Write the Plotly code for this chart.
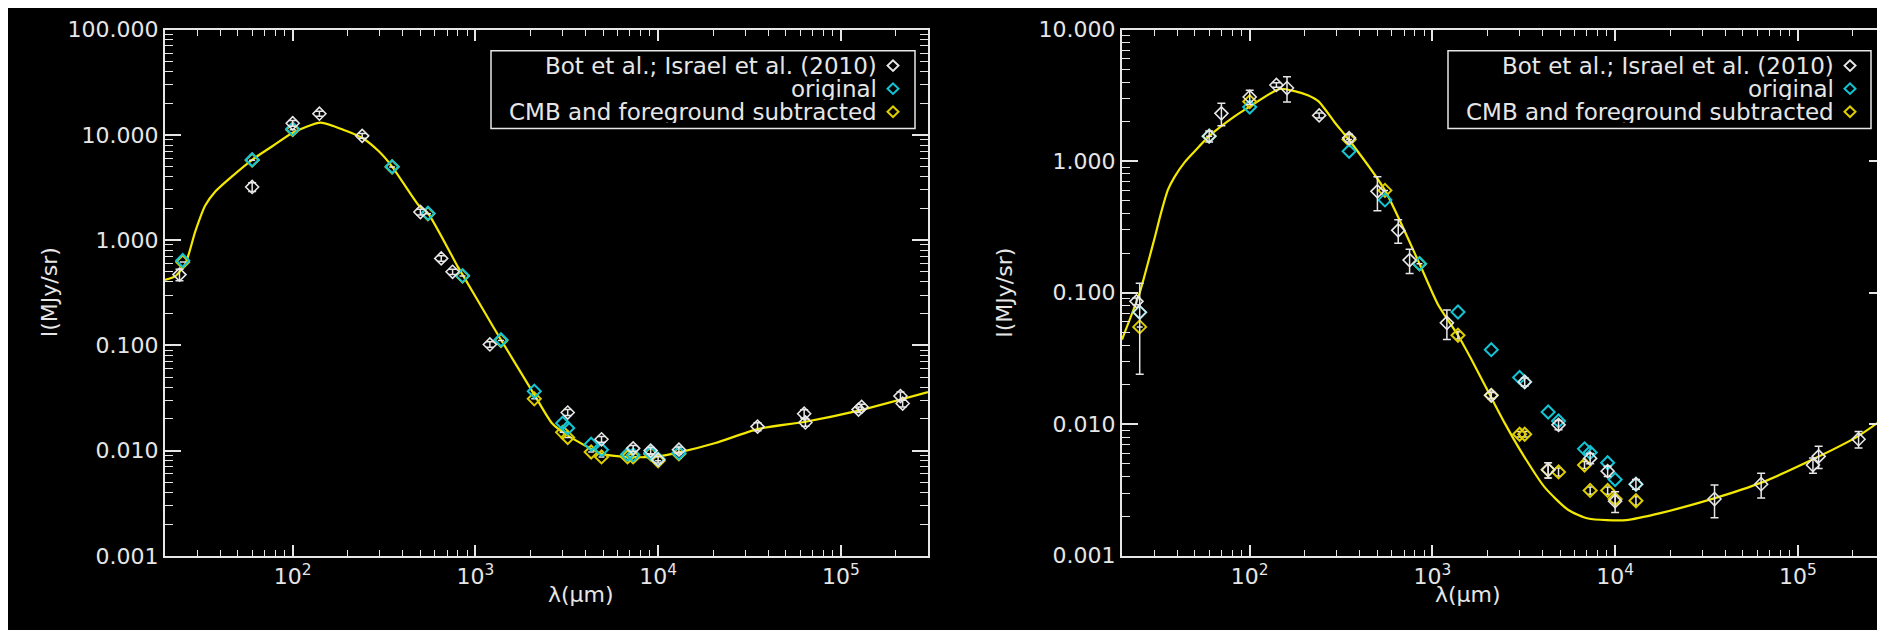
import numpy as np
import plotly.graph_objects as go

W, H = 1885, 630

# ---------------- Left panel data ----------------
L_bot_wl = [24, 60, 100, 140, 240, 500, 650, 750, 1200, 3200, 4900, 7300, 9100, 10000,
            13000, 35000, 63000, 64000, 125000, 130000, 212000, 218000]
L_bot_I = [0.47, 3.2, 12.9, 15.9, 9.8, 1.85, 0.67, 0.50, 0.102, 0.023, 0.0128, 0.0105,
           0.0100, 0.0082, 0.0102, 0.0169, 0.0224, 0.0185, 0.0245, 0.026, 0.033, 0.028]
L_bot_err = [0.06, 0.3, 0.8, 0.9, 0.5, 0.12, 0.04, 0.03, 0.006, 0.0015, 0.0008, 0.0007,
             0.0007, 0.0006, 0.0006, 0.0015, 0.002, 0.0015, 0.0015, 0.0015, 0.003, 0.002]

L_wl = [25, 60, 100, 350, 550, 850, 1380, 2100, 3000, 3200, 4300, 4900, 6800, 7300,
        9100, 10000, 13000]
L_orig = [0.64, 5.8, 11.4, 5.0, 1.8, 0.46, 0.113, 0.0366, 0.0182, 0.0164, 0.0115, 0.0102,
          0.0092, 0.0091, 0.0095, 0.0083, 0.0095]
L_sub = [0.62, 5.75, 11.2, 4.95, 1.78, 0.455, 0.111, 0.0310, 0.0149, 0.0133, 0.0097,
         0.0087, 0.0087, 0.0087, 0.0093, 0.0080, 0.0093]

L_mod_wl = [20, 22.8, 25.9, 29.3, 33.2, 37.8, 44.7, 60, 77, 100, 142, 194, 243, 296, 350,
            490, 550, 800, 850, 1260, 1380, 2100, 2625, 3245, 4931, 6900, 10000, 13000,
            20600, 35000, 64000, 125000, 300000]
L_mod = [0.418, 0.455, 0.60, 1.21, 2.13, 2.91, 3.8, 5.8, 7.76, 10.5, 13.1, 11.0, 9.25,
         6.98, 5.0, 2.13, 1.8, 0.56, 0.47, 0.147, 0.113, 0.034, 0.0182, 0.0137, 0.0093,
         0.0087, 0.0088, 0.0096, 0.0118, 0.016, 0.0188, 0.024, 0.036]

# ---------------- Right panel data ----------------
R_bot_wl = [24, 25, 60, 70, 100, 140, 160, 240, 350, 500, 650, 750, 1200, 2100, 3200,
            4300, 4900, 7300, 9100, 10000, 13000, 35000, 63000, 121000, 130000, 215000]
R_bot_I = [0.086, 0.071, 1.55, 2.31, 3.08, 3.8, 3.6, 2.23, 1.5, 0.59, 0.298, 0.177, 0.059,
           0.0166, 0.021, 0.0045, 0.0099, 0.0055, 0.0044, 0.0026, 0.0035, 0.0027, 0.0035,
           0.0049, 0.0057, 0.0077]
R_bot_err = [0.005, 0.047, 0.15, 0.45, 0.38, 0.15, 0.78, 0.1, 0.1, 0.17, 0.06, 0.037,
             0.015, 0.001, 0.0015, 0.0006, 0.0008, 0.0005, 0.0004, 0.00047, 0.0003,
             0.00075, 0.00075, 0.00065, 0.0011, 0.0011]

R_wl = [25, 60, 100, 350, 550, 850, 1380, 2100, 3000, 3200, 4300, 4900, 6800, 7300,
        9100, 10000, 13000]
R_orig = [0.071, 1.55, 2.58, 1.19, 0.508, 0.166, 0.0714, 0.0369, 0.0227, 0.021, 0.0124,
          0.0106, 0.0065, 0.0061, 0.0051, 0.0038, 0.0035]
R_sub = [0.055, 1.55, 2.84, 1.46, 0.60, 0.166, 0.0475, 0.0166, 0.0084, 0.0084, 0.0045,
         0.00434, 0.0049, 0.00314, 0.00314, 0.0027, 0.00262]
R_sub_err = [0, 0, 0, 0, 0, 0, 0.003, 0.0008, 0.0004, 0.0004, 0.0006, 0.0003, 0.0003,
             0.0002, 0.0002, 0.0002, 0.0002]

R_mod_wl = [20, 25, 27.7, 30.2, 32.8, 35.7, 38.8, 44, 50, 60, 83, 100, 146, 176, 208, 239,
            292, 350, 550, 850, 1074, 1380, 1633, 2015, 2488, 3070, 4120, 5520, 7110,
            11500, 17900, 34750, 63100, 123500, 214000, 300000]
R_mod = [0.0441, 0.10, 0.167, 0.262, 0.41, 0.607, 0.76, 0.98, 1.19, 1.55, 2.2, 2.6, 3.55,
         3.41, 3.17, 2.84, 1.97, 1.45, 0.6, 0.166, 0.081, 0.0475, 0.0312, 0.0178, 0.0102,
         0.00614, 0.00331, 0.00224, 0.00192, 0.00187, 0.00212, 0.00273, 0.0036, 0.00549,
         0.00813, 0.01125]

LEGEND_LABELS = ["Bot et al.; Israel et al. (2010)", "original", "CMB and foreground subtracted"]
X_TICKS = [100, 1000, 10000, 100000]
X_TICKTEXT = ["10<sup>2</sup>", "10<sup>3</sup>", "10<sup>4</sup>", "10<sup>5</sup>"]
L_YTICKS = [0.001, 0.01, 0.1, 1, 10, 100]
L_YTEXT = ["0.001", "0.010", "0.100", "1.000", "10.000", "100.000"]
R_YTICKS = [0.001, 0.01, 0.1, 1, 10]
R_YTEXT = ["0.001", "0.010", "0.100", "1.000", "10.000"]

# ---------------- styling ----------------
WHITE = "#e6e6e6"
CYAN = "#12c4d4"
YEL_M = "#dccc00"
YEL_L = "#f2e800"
FONT = "DejaVu Sans"
FS = 22
FS_LEG = 23

def px(x):
    return x / W

def py(y):
    return 1 - y / H

minor_x = [m * 10 ** k for k in range(1, 6) for m in range(2, 10)]
minor_y = [m * 10.0 ** k for k in range(-3, 2) for m in range(2, 10)]

fig = go.Figure()

def add_panel(xa, ya, mod_wl, mod, orig_wl, orig, sub, sub_err, bot_wl, bot, bot_err):
    fig.add_trace(go.Scatter(x=mod_wl, y=mod, mode="lines", xaxis=xa, yaxis=ya,
                             line=dict(color=YEL_L, width=2.2, shape="spline", smoothing=0.6),
                             showlegend=False, hoverinfo="skip"))
    fig.add_trace(go.Scatter(x=orig_wl, y=sub, mode="markers", xaxis=xa, yaxis=ya,
                             marker=dict(symbol="diamond-open", size=10, color=YEL_M,
                                         line=dict(width=2, color=YEL_M)),
                             error_y=dict(type="data", array=sub_err, color=WHITE,
                                          thickness=1.5, width=3),
                             showlegend=False))
    fig.add_trace(go.Scatter(x=orig_wl, y=orig, mode="markers", xaxis=xa, yaxis=ya,
                             marker=dict(symbol="diamond-open", size=10, color=CYAN,
                                         line=dict(width=2, color=CYAN)),
                             showlegend=False))
    fig.add_trace(go.Scatter(x=bot_wl, y=bot, mode="markers", xaxis=xa, yaxis=ya,
                             marker=dict(symbol="diamond-open", size=10, color=WHITE,
                                         line=dict(width=1.6, color=WHITE)),
                             error_y=dict(type="data", array=bot_err, color=WHITE,
                                          thickness=1.5, width=4),
                             showlegend=False))

add_panel("x", "y", L_mod_wl, L_mod, L_wl, L_orig, L_sub, [0] * len(L_wl),
          L_bot_wl, L_bot_I, L_bot_err)
add_panel("x2", "y2", R_mod_wl, R_mod, R_wl, R_orig, R_sub, R_sub_err,
          R_bot_wl, R_bot_I, R_bot_err)

ydom = [py(558), py(10)]

def xaxis(dom, anchor):
    return dict(type="log", range=[np.log10(20), np.log10(3e5)], domain=dom, anchor=anchor,
                showgrid=False, zeroline=False, showline=True, linecolor=WHITE, linewidth=2,
                mirror="allticks", ticks="inside", ticklen=11, tickwidth=1.5, tickcolor=WHITE,
                tickmode="array", tickvals=X_TICKS, ticktext=X_TICKTEXT,
                ticklabeloverflow="allow",
                tickfont=dict(family=FONT, size=FS, color=WHITE),
                minor=dict(tickmode="array", tickvals=minor_x, ticks="inside", ticklen=6,
                           tickwidth=1.2, tickcolor=WHITE, showgrid=False))

def yaxis(dom, anchor, rng, tv, tt):
    return dict(type="log", range=[rng[0] - 0.0005, rng[1] + 0.0005], domain=dom,
                anchor=anchor,
                showgrid=False, zeroline=False, showline=True, linecolor=WHITE, linewidth=2,
                mirror="allticks", ticks="inside", ticklen=16, tickwidth=1.5, tickcolor=WHITE,
                tickmode="array", tickvals=tv, ticktext=tt,
                ticklabeloverflow="allow",
                tickfont=dict(family=FONT, size=FS, color=WHITE),
                minor=dict(tickmode="array", tickvals=minor_y, ticks="inside", ticklen=8,
                           tickwidth=1.2, tickcolor=WHITE, showgrid=False))

fig.update_layout(
    width=W, height=H, paper_bgcolor="black", plot_bgcolor="black",
    margin=dict(l=0, r=0, t=0, b=0), showlegend=False,
    xaxis=xaxis([px(157), px(920)], "y"),
    yaxis=yaxis(ydom, "x", [-3, 2], L_YTICKS, L_YTEXT),
    xaxis2=xaxis([px(1114), px(1877)], "y2"),
    yaxis2=yaxis(ydom, "x2", [-3, 1], R_YTICKS, R_YTEXT),
)

annotations = []
shapes = []
for (xc, ytc, xyt) in [(538, 613, 27), (1495, 613, 997)]:
    annotations.append(dict(x=px(xc), y=py(ytc), xref="paper", yref="paper", text="λ(μm)",
                            showarrow=False, font=dict(family=FONT, size=FS, color=WHITE)))
    annotations.append(dict(x=px(xyt), y=py(284), xref="paper", yref="paper", text="I(MJy/sr)",
                            textangle=-90, showarrow=False,
                            font=dict(family=FONT, size=FS, color=WHITE)))

legend_colors = [WHITE, CYAN, YEL_M]
row_y = [47.5, 71.5, 95.5]
for (bx0, bx1, text_end, dx) in [(483, 907, 870, 885), (1440, 1863, 1827, 1842)]:
    shapes.append(dict(type="rect", xref="paper", yref="paper", x0=px(bx0), x1=px(bx1),
                       y0=py(113), y1=py(32), line=dict(color=WHITE, width=1.5)))
    for lab, col, ry in zip(LEGEND_LABELS, legend_colors, row_y):
        annotations.append(dict(x=px(text_end), y=py(ry), xref="paper", yref="paper",
                                text=lab, showarrow=False, xanchor="right", yanchor="middle",
                                height=22, borderpad=0,
                                font=dict(family=FONT, size=FS_LEG, color=WHITE)))
        r = 5.5
        path = "M {} {} L {} {} L {} {} L {} {} Z".format(
            px(dx - r), py(ry), px(dx), py(ry - r), px(dx + r), py(ry), px(dx), py(ry + r))
        shapes.append(dict(type="path", xref="paper", yref="paper", path=path,
                           line=dict(color=col, width=2)))

fig.update_layout(annotations=annotations, shapes=shapes)
fig.write_html("out.html")
